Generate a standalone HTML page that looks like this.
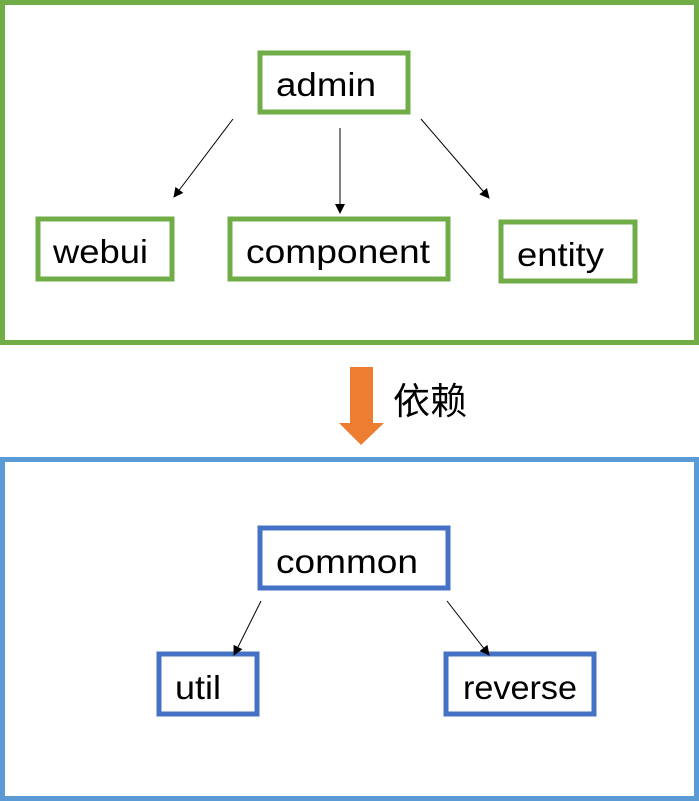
<!DOCTYPE html>
<html><head><meta charset="utf-8"><style>html,body{margin:0;padding:0;background:#fff}svg{display:block}</style></head>
<body>
<svg width="699" height="801" xmlns="http://www.w3.org/2000/svg" font-family="'Liberation Sans','Noto Sans CJK SC',sans-serif">
<defs>
<marker id="a" markerWidth="10" markerHeight="10" refX="9" refY="5" orient="auto" markerUnits="userSpaceOnUse">
<path d="M0,0 L10,5 L0,10 z" fill="#000"/></marker>
</defs>
<rect x="2.5" y="2.5" width="694" height="340" fill="none" stroke="#70AD47" stroke-width="5"/>
<g fill="none" stroke="#70AD47" stroke-width="5">
<rect x="260" y="53" width="148" height="59"/>
<rect x="38" y="219" width="134" height="60"/>
<rect x="230" y="219" width="218" height="60"/>
<rect x="501" y="222" width="134" height="59"/>
</g>
<g stroke="#000" stroke-width="1" marker-end="url(#a)">
<line x1="233" y1="119" x2="174" y2="197"/>
<line x1="340" y1="128" x2="340" y2="213"/>
<line x1="421" y1="119" x2="489" y2="198"/>
</g>
<g font-size="33" fill="#000" lengthAdjust="spacingAndGlyphs">
<text x="276" y="96" textLength="100" lengthAdjust="spacingAndGlyphs">admin</text>
<text x="53" y="263" textLength="95" lengthAdjust="spacingAndGlyphs">webui</text>
<text x="246" y="263" textLength="184" lengthAdjust="spacingAndGlyphs">component</text>
<text x="517" y="266" textLength="87" lengthAdjust="spacingAndGlyphs">entity</text>
</g>
<rect x="350" y="367" width="23" height="57" fill="#ED7D31"/>
<polygon points="339,423 384,423 361,445" fill="#ED7D31"/>
<text x="393" y="414" font-size="37" font-family="'Noto Sans CJK SC',sans-serif" textLength="74" lengthAdjust="spacingAndGlyphs">依赖</text>
<rect x="2.5" y="459.5" width="694" height="339" fill="none" stroke="#5B9BD5" stroke-width="5"/>
<g fill="none" stroke="#4472C4" stroke-width="5">
<rect x="260" y="528" width="188" height="60"/>
<rect x="159" y="654" width="98" height="60"/>
<rect x="446" y="654" width="148" height="60"/>
</g>
<g stroke="#000" stroke-width="1" marker-end="url(#a)">
<line x1="261" y1="601" x2="234" y2="655"/>
<line x1="447" y1="601" x2="489" y2="655"/>
</g>
<g font-size="33" fill="#000">
<text x="276" y="573" textLength="142" lengthAdjust="spacingAndGlyphs">common</text>
<text x="175" y="699" textLength="46" lengthAdjust="spacingAndGlyphs">util</text>
<text x="463" y="699" textLength="114" lengthAdjust="spacingAndGlyphs">reverse</text>
</g>
</svg>
</body></html>
